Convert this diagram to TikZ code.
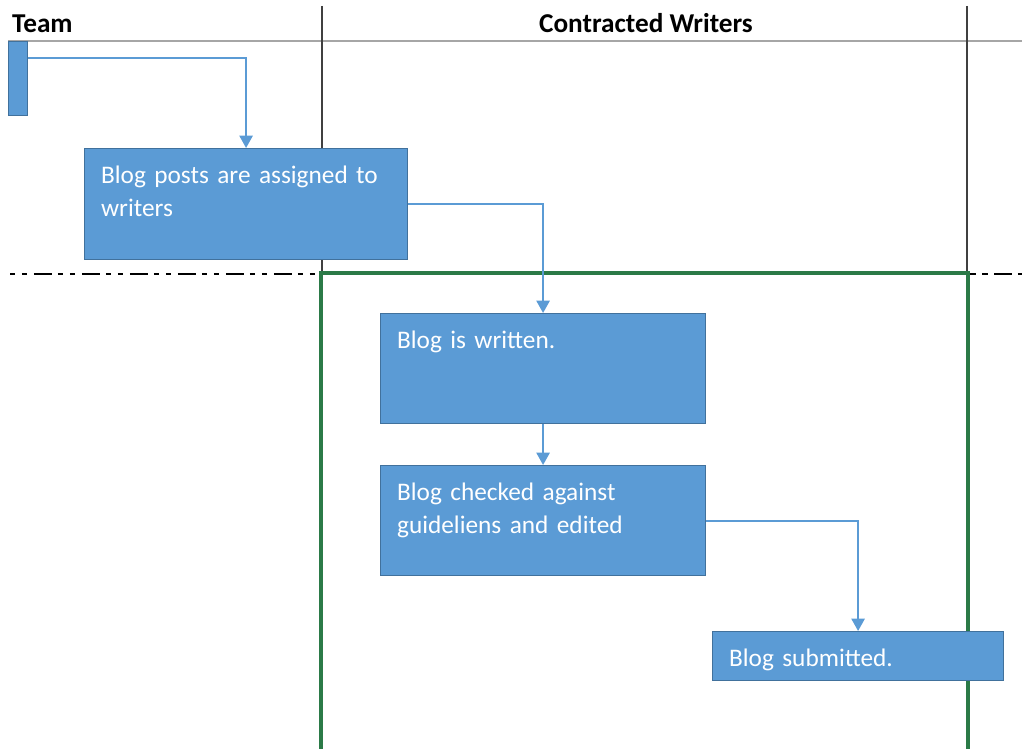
\documentclass[tikz,border=0pt]{standalone}
\usepackage{fontspec}
\setmainfont{Carlito}
\usetikzlibrary{arrows.meta,positioning}
\definecolor{taskfill}{HTML}{5B9BD5}
\definecolor{taskline}{HTML}{41719C}
\definecolor{flowblue}{HTML}{5B9BD5}
\definecolor{lanegray}{HTML}{A6A6A6}
\definecolor{lanedark}{HTML}{404040}
\definecolor{phasegreen}{HTML}{2B7A47}
\begin{document}
\begin{tikzpicture}[x=.02cm,y=-.02cm,>={Triangle[width=7.5pt,length=7pt]},
  task/.style={draw=taskline,fill=taskfill,line width=.7pt,anchor=north west,align=left,
    inner xsep=.33cm,inner ysep=.2cm,text height=.5cm,text=white,
    font=\fontsize{14.4}{18.6}\selectfont},
  lanehead/.style={font=\bfseries\fontsize{15.5}{18}\selectfont},
  flow/.style={->,draw=flowblue,line width=1.1pt},
  lane/.style={draw=lanedark,line width=1.2pt},
  phasecut/.style={line width=1.1pt,dash pattern={on .11cm off .13cm on .11cm off .13cm on .36cm off .12cm}}]
\useasboundingbox (0,0) rectangle (1022,749);
% lanes
\draw[lanegray,line width=1.2pt] (8,41) -- (1022,41);
\draw[lane] (322,6) -- (322,273);
\draw[lane] (967,6) -- (967,273);
\draw[phasecut] (10,274) -- (320,274);
\draw[phasecut] (970,274) -- (1022,274);
\draw[phasegreen,line width=2.1pt] (321,749) |- (968,273) -- (968,749);
\node[lanehead,anchor=base west] (team) at (6,33) {Team};
\node[lanehead,anchor=base] (writers) at (646,33) {Contracted Writers};
% tasks
\node[draw=taskline,fill=taskfill,line width=.7pt,anchor=north west,inner sep=0pt,
  minimum width=.38cm,minimum height=1.48cm] (start) at (8,41) {};
\node[task,text width=5.8cm,text depth=1.32cm] (posts) at (84,148)
  {Blog posts are assigned to\\writers};
\node[task,text width=5.84cm,text depth=1.3cm] (written) at (380,313)
  {Blog is written.};
\node[task,text width=5.84cm,text depth=1.3cm] (checked) at (380,465)
  {Blog checked against\\guideliens and edited};
\node[task,text width=5.16cm,text depth=.08cm] (submitted) at (712,631)
  {Blog submitted.};
% flow
\draw[flow] ([yshift=-.34cm]start.north east) -| (posts.north);
\draw[flow] (posts.east) -| (written.north);
\draw[flow] (written.south) -- (checked.north);
\draw[flow] (checked.east) -| (submitted.north);
\end{tikzpicture}
\end{document}
